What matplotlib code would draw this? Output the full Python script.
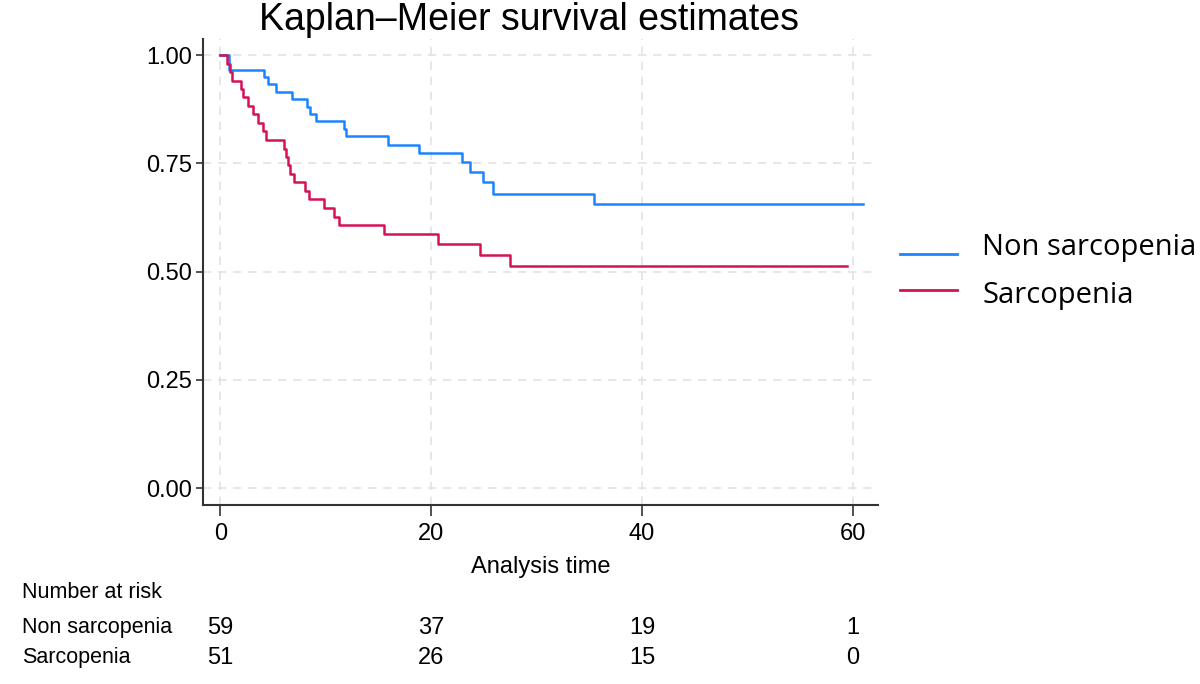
"""
Kaplan-Meier survival estimates, sarcopenia vs non sarcopenia, with number-at-risk table.
"""
import matplotlib
matplotlib.use("Agg")
import matplotlib.pyplot as plt
import matplotlib.transforms as mtransforms
from matplotlib.lines import Line2D

plt.rcParams["font.family"] = ["Liberation Sans", "DejaVu Sans"]

# KM step curves (time, survival after the step)
nonsarc_time = [0, 0.8, 4.1, 4.5, 5.3, 6.8, 8.2, 8.5, 9.1, 11.7, 11.9, 15.9,
                18.8, 22.9, 23.7, 24.9, 25.9, 35.4, 61.0]
nonsarc_surv = [1.0, 0.966, 0.949, 0.932, 0.915, 0.898, 0.881, 0.864, 0.847,
                0.830, 0.812, 0.792, 0.773, 0.752, 0.729, 0.706, 0.680, 0.655, 0.655]

sarc_time = [0, 0.6, 0.9, 1.1, 1.9, 2.1, 2.6, 3.1, 3.6, 4.0, 4.3, 6.0, 6.2,
             6.4, 6.6, 7.0, 8.0, 8.4, 9.8, 10.8, 11.2, 15.5, 20.6, 24.6, 27.5, 59.5]
sarc_surv = [1.0, 0.980, 0.961, 0.941, 0.922, 0.902, 0.882, 0.863, 0.843, 0.824,
             0.804, 0.784, 0.765, 0.745, 0.725, 0.706, 0.686, 0.667, 0.647, 0.627,
             0.607, 0.586, 0.564, 0.539, 0.514, 0.514]

groups = ["Non sarcopenia", "Sarcopenia"]
colors = ["#1a85ff", "#d41159"]

risk_times = [0, 20, 40, 60]
risk_nonsarc = [59, 37, 19, 1]
risk_sarc = [51, 26, 15, 0]

x_ticks = [0, 20, 40, 60]
y_ticks = [0.0, 0.25, 0.5, 0.75, 1.0]


def main():
    fig = plt.figure(figsize=(12, 6.84), dpi=100)
    ax = fig.add_axes([203 / 1200, 1 - 505 / 684, (878 - 203) / 1200, (505 - 39) / 684])

    for t, s, c in [(nonsarc_time, nonsarc_surv, colors[0]), (sarc_time, sarc_surv, colors[1])]:
        ax.step(t, s, where="post", color=c, lw=1.8, zorder=3)

    ax.set_xlim(-1.66, 62.4)
    ax.set_ylim(-0.039, 1.037)
    ax.set_xticks(x_ticks)
    ax.set_yticks(y_ticks)
    ax.set_yticklabels([f"{v:.2f}" for v in y_ticks])
    ax.tick_params(axis="both", labelsize=17, direction="out", color="#333333", width=1.2)
    ax.tick_params(axis="x", length=8, pad=5)
    ax.tick_params(axis="y", length=5, pad=3)
    ax.grid(True, color="#e3e3e3", ls=(0, (5, 4)), lw=1.2, zorder=0)
    for side in ["top", "right"]:
        ax.spines[side].set_visible(False)
    for side in ["left", "bottom"]:
        ax.spines[side].set_color("#333333")
        ax.spines[side].set_linewidth(1.5)

    ax.set_xlabel("Analysis time", fontsize=17, labelpad=8)
    fig.text(529 / 1200, 1 - 30 / 684, "Kaplan\u2013Meier survival estimates",
             ha="center", va="baseline", fontsize=27)

    # legend pasted to the right; keys sit a little off the text rows, as in the source
    for (line_y, text_y), name, c in zip([(254, 248), (290, 296)], groups, colors):
        fig.add_artist(Line2D([900 / 1200, 957 / 1200], [1 - line_y / 684] * 2,
                              color=c, lw=2.0, transform=fig.transFigure))
        fig.text(982 / 1200, 1 - text_y / 684, name, ha="left", va="center",
                 family=["Open Sans", "DejaVu Sans"], fontsize=21)

    # number at risk table
    trans = mtransforms.blended_transform_factory(ax.transData, fig.transFigure)
    fig.text(22 / 1200, 1 - 592 / 684, "Number at risk", ha="left", va="center", fontsize=15.5)
    for row_y, name, counts in [(628, groups[0], risk_nonsarc), (658, groups[1], risk_sarc)]:
        fig.text(22 / 1200, 1 - row_y / 684, name, ha="left", va="center", fontsize=15.5)
        for t, n in zip(risk_times, counts):
            ax.text(t, 1 - row_y / 684, str(n), transform=trans, ha="center", va="center",
                    fontsize=17, clip_on=False)

    fig.savefig("out.png", dpi=100)
    plt.close(fig)


if __name__ == "__main__":
    main()
